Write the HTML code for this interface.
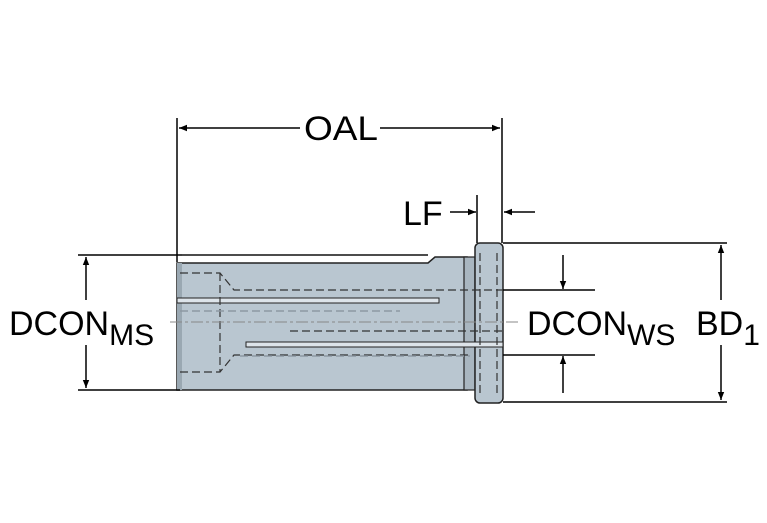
<!DOCTYPE html>
<html><head><style>body{margin:0;background:#fff}svg{display:block}text{font-family:"Liberation Sans",sans-serif;fill:#000}</style></head><body>
<svg width="767" height="523" viewBox="0 0 767 523" xmlns="http://www.w3.org/2000/svg">
<defs><marker id="a" viewBox="0 0 10 10" refX="10" refY="5" markerWidth="14" markerHeight="8" markerUnits="userSpaceOnUse" orient="auto"><path d="M0,1 L10,5 L0,9z" fill="#000"/></marker>
<marker id="b" viewBox="0 0 10 10" refX="10" refY="5" markerWidth="16" markerHeight="8" markerUnits="userSpaceOnUse" orient="auto"><path d="M0,1 L10,5 L0,9z" fill="#000"/></marker></defs>
<path d="M177,263 L428,263 L435,257 L467,257 L467,390 L177,390 Z" fill="#b9c6d0" stroke="#222" stroke-width="1.5"/>
<rect x="177" y="263" width="5" height="127" fill="#9aa8b2"/>
<rect x="464" y="257" width="11" height="133" fill="#a9b6c0" stroke="#222" stroke-width="1.2"/>
<rect x="475" y="243" width="28" height="160" rx="5" fill="#b9c6d0" stroke="#222" stroke-width="1.5"/>
<line x1="182" y1="255" x2="428" y2="255" stroke="#111" stroke-width="1.5"/>
<rect x="177" y="298" width="262" height="5" fill="#dde4ea" stroke="#222" stroke-width="1"/>
<rect x="246" y="342" width="257" height="5" fill="#dde4ea" stroke="#222" stroke-width="1"/>
<g stroke="#333" stroke-width="1.2" stroke-dasharray="8,4" fill="none">
<path d="M180,273 L220,273 L234,290 L503,290"/>
<path d="M180,372 L220,372 L234,355 L470,355"/>
<line x1="220" y1="273" x2="220" y2="372"/>
<line x1="290" y1="331" x2="503" y2="331"/>
<line x1="480" y1="253" x2="480" y2="395"/>
<line x1="497" y1="253" x2="497" y2="395"/>
</g>
<g stroke="#8d98a2" stroke-width="1.5" stroke-dasharray="8,4"><line x1="180" y1="311" x2="400" y2="311"/><line x1="240" y1="356" x2="470" y2="356"/></g>
<line x1="170" y1="322" x2="520" y2="322" stroke="#888" stroke-width="1" stroke-dasharray="12,3,3,3"/>
<g stroke="#000" stroke-width="1.5" fill="none">
<line x1="177" y1="118" x2="177" y2="262"/><line x1="502" y1="118" x2="502" y2="243"/>
<line x1="300" y1="128" x2="179" y2="128" marker-end="url(#a)"/><line x1="380" y1="128" x2="500" y2="128" marker-end="url(#a)"/>
<line x1="477" y1="195" x2="477" y2="243"/>
<line x1="450" y1="212" x2="476" y2="212" marker-end="url(#a)"/><line x1="535" y1="212" x2="504" y2="212" marker-end="url(#a)"/>
<line x1="78" y1="255" x2="182" y2="255"/><line x1="78" y1="390" x2="180" y2="390"/>
<line x1="86" y1="300" x2="86" y2="257" marker-end="url(#b)"/><line x1="86" y1="345" x2="86" y2="388" marker-end="url(#b)"/>
<line x1="503" y1="243" x2="727" y2="243"/><line x1="503" y1="402" x2="727" y2="402"/>
<line x1="721" y1="300" x2="721" y2="245" marker-end="url(#b)"/><line x1="721" y1="345" x2="721" y2="400" marker-end="url(#b)"/>
<line x1="503" y1="290" x2="595" y2="290"/><line x1="503" y1="355" x2="595" y2="355"/>
<line x1="563" y1="255" x2="563" y2="289" marker-end="url(#b)"/><line x1="563" y1="393" x2="563" y2="356" marker-end="url(#b)"/>
</g>
<text x="304" y="140" font-size="34" textLength="74" lengthAdjust="spacingAndGlyphs">OAL</text>
<text x="403" y="225" font-size="34">LF</text>
<text x="9" y="335" font-size="34">DCON<tspan font-size="30" dy="10">MS</tspan></text>
<text x="527" y="335" font-size="34">DCON<tspan font-size="30" dy="10">WS</tspan></text>
<text x="696" y="335" font-size="34">BD<tspan font-size="30" dy="10">1</tspan></text>
</svg></body></html>
